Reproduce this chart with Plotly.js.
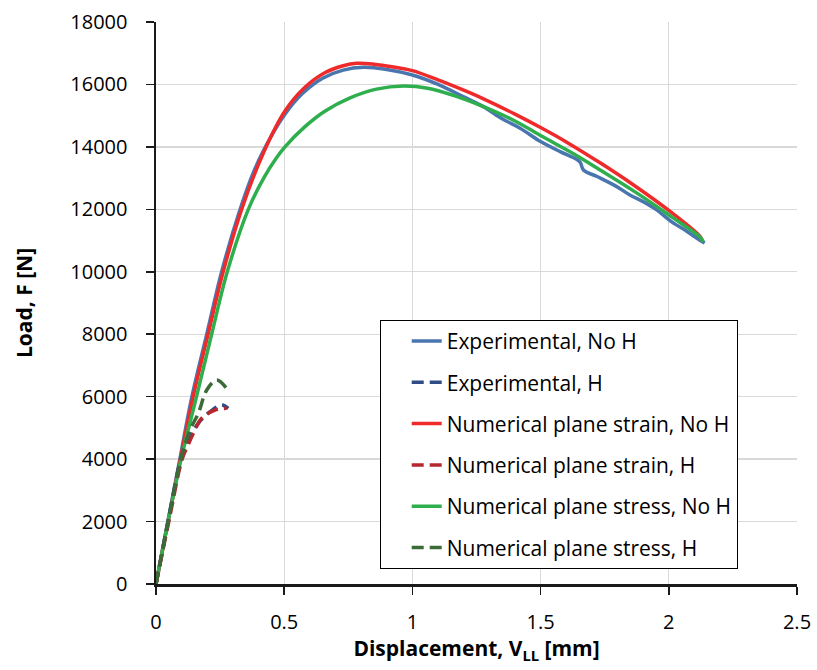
<!DOCTYPE html>
<html>
<head>
<meta charset="utf-8">
<script src="https://cdn.plot.ly/plotly-3.0.1.min.js"></script>
<style>html,body{margin:0;padding:0;background:#fff;}#chart{width:817px;height:670px;}</style>
</head>
<body>
<div id="chart"></div>
<script>
// Experimental, No H
const expNoH_x = [0, 0.046, 0.093, 0.14, 0.198, 0.256, 0.328, 0.386, 0.45, 0.503, 0.57, 0.65, 0.73, 0.809, 0.9, 1.0, 1.1, 1.2, 1.277, 1.35, 1.42, 1.5, 1.576, 1.64, 1.655, 1.667, 1.72, 1.797, 1.85, 1.90, 1.95, 2.01, 2.07, 2.12, 2.14];
const expNoH_y = [0, 2000, 4000, 6000, 8000, 10000, 12000, 13300, 14350, 15050, 15700, 16200, 16460, 16550, 16480, 16303, 16000, 15600, 15289, 14900, 14600, 14169, 13848, 13603, 13500, 13261, 13050, 12727, 12450, 12246, 12000, 11605, 11300, 11019, 10922];
// Experimental, H
const expH_x = [0, 0.047, 0.097, 0.13, 0.165, 0.211, 0.256, 0.282];
const expH_y = [0, 2000, 4000, 4700, 5147, 5520, 5734, 5627];
// Numerical plane strain, No H
const strainNoH_x = [0, 0.047, 0.095, 0.145, 0.203, 0.262, 0.334, 0.42, 0.503, 0.58, 0.66, 0.73, 0.783, 0.85, 0.92, 1.0, 1.1, 1.2, 1.277, 1.4, 1.5, 1.6, 1.732, 1.85, 2.01, 2.12, 2.13];
const strainNoH_y = [0, 2000, 4000, 6000, 8000, 10000, 12000, 13830, 15150, 15900, 16380, 16600, 16678, 16650, 16570, 16442, 16145, 15815, 15540, 15050, 14620, 14160, 13490, 12850, 11900, 11150, 11020];
// Numerical plane strain, H
const strainH_x = [0, 0.05, 0.102, 0.125, 0.146, 0.178, 0.23, 0.276];
const strainH_y = [0, 2000, 4000, 4450, 4826, 5307, 5573, 5627];
// Numerical plane stress, No H
const stressNoH_x = [0, 0.047, 0.098, 0.158, 0.217, 0.278, 0.36, 0.42, 0.47, 0.503, 0.58, 0.66, 0.757, 0.86, 0.965, 1.06, 1.16, 1.277, 1.4, 1.507, 1.62, 1.732, 1.87, 2.01, 2.12, 2.135];
const stressNoH_y = [0, 2000, 4000, 6000, 8000, 10000, 12000, 13000, 13650, 14000, 14640, 15150, 15570, 15850, 15951, 15880, 15650, 15289, 14830, 14330, 13820, 13261, 12550, 11765, 11125, 10960];
// Numerical plane stress, H
const stressH_x = [0, 0.048, 0.097, 0.133, 0.165, 0.198, 0.237, 0.273];
const stressH_y = [0, 2000, 4000, 4933, 5467, 6214, 6534, 6288];

const names = ["Experimental, No H", "Experimental, H", "Numerical plane strain, No H", "Numerical plane strain, H", "Numerical plane stress, No H", "Numerical plane stress, H"];
const xTicks = [0, 0.5, 1, 1.5, 2, 2.5];
const xTickText = ["0", "0.5", "1", "1.5", "2", "2.5"];
const yTicks = [0, 2000, 4000, 6000, 8000, 10000, 12000, 14000, 16000, 18000];
const yTickText = ["0", "2000", "4000", "6000", "8000", "10000", "12000", "14000", "16000", "18000"];

const FONT = "Open Sans, Liberation Sans, sans-serif";
function tr(x, y, i, color, dash) {
  return {x: x, y: y, name: names[i], type: "scatter", mode: "lines",
    legendgroup: "g" + i, legendrank: i + 1,
    line: {color: color, width: 3.5, dash: dash, shape: "spline", smoothing: 1}};
}
const data = [
  tr(expNoH_x, expNoH_y, 0, "#4A76B0", "solid"),
  tr(strainNoH_x, strainNoH_y, 2, "#EE2A2A", "solid"),
  tr(stressNoH_x, stressNoH_y, 4, "#2EAE4C", "solid"),
  tr(expH_x, expH_y, 1, "#2E4C86", "12px,6px"),
  tr(strainH_x, strainH_y, 3, "#B7282E", "12px,6px"),
  tr(stressH_x, stressH_y, 5, "#3B6B36", "12px,6px")
];

const layout = {
  width: 817, height: 670,
  margin: {l: 156, r: 20, t: 22, b: 86},
  paper_bgcolor: "#fff", plot_bgcolor: "#fff",
  font: {family: FONT, color: "#000", size: 20},
  showlegend: true,
  legend: {x: 0.349, y: 0.470, xanchor: "left", yanchor: "top",
    bgcolor: "#fff", bordercolor: "#000", borderwidth: 1,
    font: {family: FONT, size: 21, color: "#000"},
    indentation: 26,
    traceorder: "grouped", tracegroupgap: 11},
  xaxis: {range: [0, 2.5], tickvals: xTicks, ticktext: xTickText,
    showgrid: true, gridcolor: "#d9d9d9", gridwidth: 1.3,
    showline: true, linecolor: "#1a1a1a", linewidth: 2.5,
    ticks: "outside", ticklen: 8, tickwidth: 1.5, tickcolor: "#1a1a1a",
    ticklabelstandoff: 10,
    zeroline: false, tickfont: {family: FONT, size: 20},
    title: {text: "<b>Displacement, V<sub>LL</sub> [mm]</b>", font: {family: FONT, size: 21}, standoff: 8}},
  yaxis: {range: [0, 18000], tickvals: yTicks, ticktext: yTickText,
    showgrid: true, gridcolor: "#d9d9d9", gridwidth: 1.3,
    showline: true, linecolor: "#1a1a1a", linewidth: 2.5,
    ticks: "outside", ticklen: 8, tickwidth: 1.5, tickcolor: "#1a1a1a",
    ticklabelstandoff: 14,
    zeroline: false, tickfont: {family: FONT, size: 20},
    title: {text: "<b>Load, F [N]</b>", font: {family: FONT, size: 21}, standoff: 32}}
};
Plotly.newPlot("chart", data, layout, {displayModeBar: false, staticPlot: true});
</script>
</body>
</html>
